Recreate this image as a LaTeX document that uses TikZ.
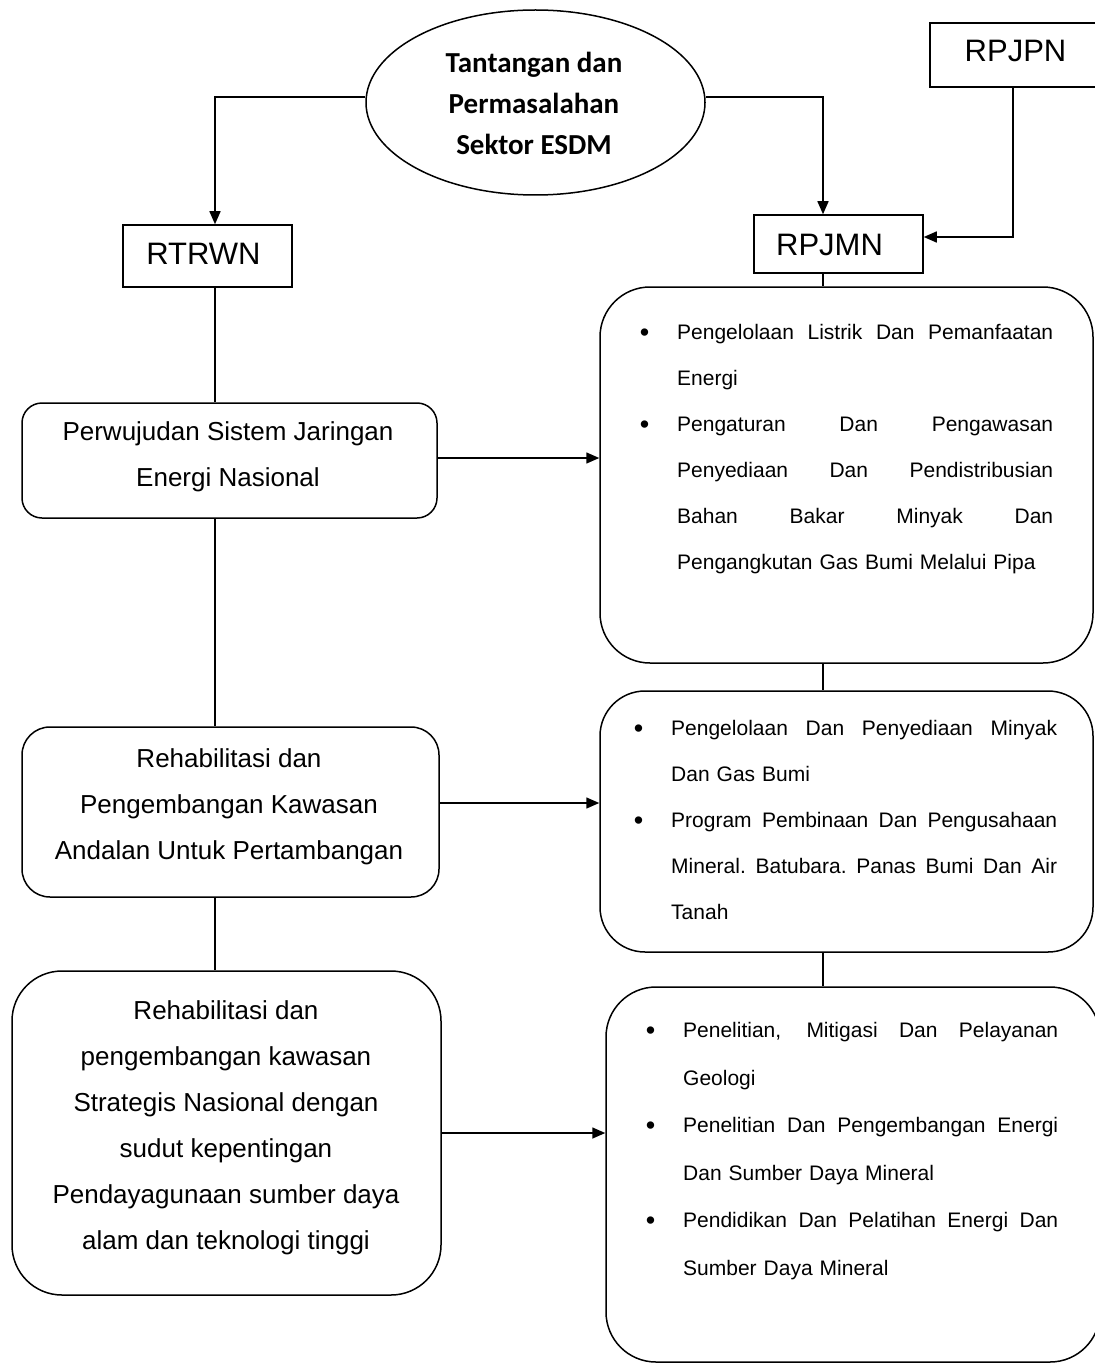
\documentclass[tikz,border=0pt]{standalone}
\usepackage{fontspec}
\setmainfont{Liberation Sans}
\newfontfamily\ellfont{Carlito}
\usetikzlibrary{shapes.geometric,arrows.meta}
\newcommand\jl[2]{\leavevmode\hbox to #1pt{\spaceskip=0.278em plus 1fil\xspaceskip=0.278em plus 1fil\relax #2}}
\newcommand\bul{\leavevmode\llap{\raisebox{-1.5pt}{\fontsize{27}{27}\selectfont\textbullet}\hspace{28pt}}}
\begin{document}
\begin{tikzpicture}[x=1pt,y=-1pt,
  conn/.style={line width=1.5pt},
  arr/.style={line width=1.5pt,-{Triangle[length=13pt,width=11pt]}},
  sqbox/.style={draw,line width=1.5pt,inner sep=0pt},
  rbox/.style={draw,line width=1.5pt,inner sep=0pt},
  lefttxt/.style={anchor=north,align=center,inner sep=0pt,font=\fontsize{26}{46}\selectfont},
  righttxt/.style={anchor=north west,align=left,inner sep=0pt,font=\fontsize{21}{46}\selectfont},
  captxt/.style={inner sep=0pt,font=\fontsize{31}{36}\selectfont}]
\useasboundingbox (0,0) rectangle (1094,1364);
\fill[white] (0,0) rectangle (1094,1364);
% helper coordinates
\coordinate (lx) at (215,0);
\coordinate (rx) at (823,0);
\coordinate (ly) at (0,97);
\coordinate (qy) at (0,237);
\coordinate (a1) at (0,458);
\coordinate (a2) at (0,803);
% top ellipse
\node[ellipse,draw,line width=1.5pt,minimum width=339pt,minimum height=185pt,inner sep=0pt] (ell) at (535.5,102.5) {};
\node[anchor=north,align=center,inner sep=0pt,font=\ellfont\bfseries\fontsize{29}{41}\selectfont] (ellt) at (534,52) {Tantangan dan\\Permasalahan\\Sektor ESDM};
% small boxes
\node[sqbox,minimum width=166pt,minimum height=64pt] (RPJPN) at (1013,55) {};
\node[captxt] (RPJPNt) at (1015.5,51) {RPJPN};
\node[sqbox,minimum width=169pt,minimum height=58pt] (RPJMN) at (838.5,244) {};
\node[captxt] (RPJMNt) at (829.5,245) {RPJMN};
\node[sqbox,minimum width=169pt,minimum height=62pt] (RTRWN) at (207.5,256) {};
\node[captxt] (RTRWNt) at (203.5,254) {RTRWN};
% left boxes
\node[rbox,rounded corners=20pt,minimum width=415pt,minimum height=115pt] (LB1) at (229.5,460.5) {};
\node[lefttxt] (LB1t) at (228,421.5) {Perwujudan Sistem Jaringan\\Energi Nasional};
\node[rbox,rounded corners=28pt,minimum width=417pt,minimum height=170pt] (LB2) at (230.5,812) {};
\node[lefttxt] (LB2t) at (229,748.5) {Rehabilitasi dan\\Pengembangan Kawasan\\Andalan Untuk Pertambangan};
\node[rbox,rounded corners=50pt,minimum width=429pt,minimum height=324pt] (LB3) at (226.5,1133) {};
\node[lefttxt] (LB3t) at (226,1000.5) {Rehabilitasi dan\\pengembangan kawasan\\Strategis Nasional dengan\\sudut kepentingan\\Pendayagunaan sumber daya\\alam dan teknologi tinggi};
% right boxes
\node[rbox,rounded corners=50pt,minimum width=493pt,minimum height=376pt] (RB1) at (846.5,475) {};
\node[righttxt,text width=376pt] (RB1t) at (677,324.5) {%
\bul\jl{376}{Pengelolaan Listrik Dan Pemanfaatan}\\
Energi\\
\bul\jl{376}{Pengaturan Dan Pengawasan}\\
\jl{376}{Penyediaan Dan Pendistribusian}\\
\jl{376}{Bahan Bakar Minyak Dan}\\
Pengangkutan Gas Bumi Melalui Pipa};
\node[rbox,rounded corners=45pt,minimum width=493pt,minimum height=261pt] (RB2) at (846.5,821.5) {};
\node[righttxt,text width=386pt] (RB2t) at (671,720.5) {%
\bul\jl{386}{Pengelolaan Dan Penyediaan Minyak}\\
Dan Gas Bumi\\
\bul\jl{386}{Program Pembinaan Dan Pengusahaan}\\
\jl{386}{Mineral. Batubara. Panas Bumi Dan Air}\\
Tanah};
\node[rbox,rounded corners=50pt,minimum width=494pt,minimum height=375pt] (RB3) at (853,1174.5) {};
\node[righttxt,text width=375pt,font=\fontsize{21}{47.5}\selectfont] (RB3t) at (683,1022.5) {%
\bul\jl{375}{Penelitian, Mitigasi Dan Pelayanan}\\
Geologi\\
\bul\jl{375}{Penelitian Dan Pengembangan Energi}\\
Dan Sumber Daya Mineral\\
\bul\jl{375}{Pendidikan Dan Pelatihan Energi Dan}\\
Sumber Daya Mineral};
% connectors
\draw[arr] (ell.west |- ly) -| (RTRWN.north -| lx);
\draw[arr] (ell.east |- ly) -| (RPJMN.north -| rx);
\draw[arr] (RPJPN.south) |- (RPJMN.east |- qy);
\draw[conn] (RTRWN.south -| lx) -- (LB1.north -| lx);
\draw[conn] (LB1.south -| lx) -- (LB2.north -| lx);
\draw[conn] (LB2.south -| lx) -- (LB3.north -| lx);
\draw[conn] (RPJMN.south -| rx) -- (RB1.north -| rx);
\draw[conn] (RB1.south -| rx) -- (RB2.north -| rx);
\draw[conn] (RB2.south -| rx) -- (RB3.north -| rx);
\draw[arr] (LB1.east |- a1) -- (RB1.west |- a1);
\draw[arr] (LB2.east |- a2) -- (RB2.west |- a2);
\draw[arr] (LB3.east) -- (RB3.west |- LB3.east);
\end{tikzpicture}
\end{document}
